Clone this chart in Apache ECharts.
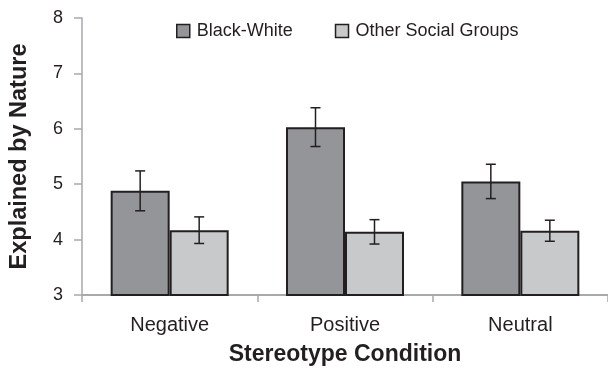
<!DOCTYPE html>
<html><head><meta charset="utf-8">
<script src="https://cdn.jsdelivr.net/npm/echarts@6/dist/echarts.min.js"></script>
<style>html,body{margin:0;padding:0;background:#fff}#c{width:608px;height:376px}</style>
</head><body><div id="c"></div>
<script>
var categories = ['Negative', 'Positive', 'Neutral'];
var seriesNames = ['Black-White', 'Other Social Groups'];
var blackWhite = [4.88, 6.03, 5.05];
var blackWhiteErr = [0.36, 0.35, 0.31];
var otherGroups = [4.17, 4.14, 4.16];
var otherGroupsErr = [0.24, 0.22, 0.19];
var yTicks = [3, 4, 5, 6, 7, 8];

var BAR_W = 59;
function errData(vals, errs) {
  return vals.map(function (v, i) { return [i, v - errs[i], v + errs[i]]; });
}
function errRender(offset) {
  return function (params, api) {
    var lo = api.coord([api.value(0), api.value(1)]);
    var hi = api.coord([api.value(0), api.value(2)]);
    var x = lo[0] + offset;
    var cap = 5;
    var st = { stroke: '#231f20', lineWidth: 1.5 };
    return { type: 'group', children: [
      { type: 'line', shape: { x1: x, y1: hi[1], x2: x, y2: lo[1] }, style: st },
      { type: 'line', shape: { x1: x - cap, y1: hi[1], x2: x + cap, y2: hi[1] }, style: st },
      { type: 'line', shape: { x1: x - cap, y1: lo[1], x2: x + cap, y2: lo[1] }, style: st }
    ]};
  };
}
var font = 'Liberation Sans, Arial, sans-serif';
var chart = echarts.init(document.getElementById('c'), null, { renderer: 'canvas' });
chart.setOption({
  animation: false,
  textStyle: { fontFamily: font },
  legend: {
    top: 17, left: 171, itemGap: 42, itemWidth: 13, itemHeight: 13,
    textStyle: { fontSize: 18, color: '#231f20', fontFamily: font, padding: [0, 0, 0, 2] },
    data: [
      { name: seriesNames[0], icon: 'rect', itemStyle: { color: '#939598', borderColor: '#231f20', borderWidth: 1.5 } },
      { name: seriesNames[1], icon: 'rect', itemStyle: { color: '#c8c9cb', borderColor: '#231f20', borderWidth: 1.5 } }
    ]
  },
  grid: { left: 80, top: 18, width: 530, height: 277, containLabel: false },
  xAxis: {
    type: 'category', data: categories,
    name: 'Stereotype Condition', nameLocation: 'middle', nameGap: 48,
    nameTextStyle: { fontSize: 23, fontWeight: 'bold', color: '#231f20', fontFamily: font },
    axisLine: { lineStyle: { color: '#a7a9ac', width: 2 } },
    axisTick: { show: true, length: 7, lineStyle: { color: '#a7a9ac', width: 1.5 } },
    axisLabel: { fontSize: 20, color: '#231f20', margin: 20, fontFamily: font }
  },
  yAxis: {
    type: 'value', min: 3, max: 8, interval: 1,
    name: 'Explained by Nature', nameLocation: 'middle', nameGap: 50,
    nameTextStyle: { fontSize: 23.5, fontWeight: 'bold', color: '#231f20', fontFamily: font },
    splitLine: { show: false },
    axisLine: { show: true, lineStyle: { color: '#a7a9ac', width: 1.5 } },
    axisTick: { show: true, length: 8, lineStyle: { color: '#a7a9ac', width: 1.5 } },
    axisLabel: { fontSize: 18, color: '#231f20', margin: 19, fontFamily: font,
      formatter: function (v) { return yTicks.indexOf(v) >= 0 ? String(v) : ''; } }
  },
  series: [
    { name: seriesNames[0], type: 'bar', data: blackWhite, barWidth: BAR_W, barGap: '0%',
      itemStyle: { color: '#939598', borderColor: '#231f20', borderWidth: 2 } },
    { name: seriesNames[1], type: 'bar', data: otherGroups, barWidth: BAR_W, barGap: '0%',
      itemStyle: { color: '#c8c9cb', borderColor: '#231f20', borderWidth: 2 } },
    { type: 'custom', name: 'err1', renderItem: errRender(-BAR_W / 2), data: errData(blackWhite, blackWhiteErr), z: 10,
      encode: { x: 0, y: [1, 2] } },
    { type: 'custom', name: 'err2', renderItem: errRender(BAR_W / 2), data: errData(otherGroups, otherGroupsErr), z: 10,
      encode: { x: 0, y: [1, 2] } }
  ]
});
</script></body></html>
